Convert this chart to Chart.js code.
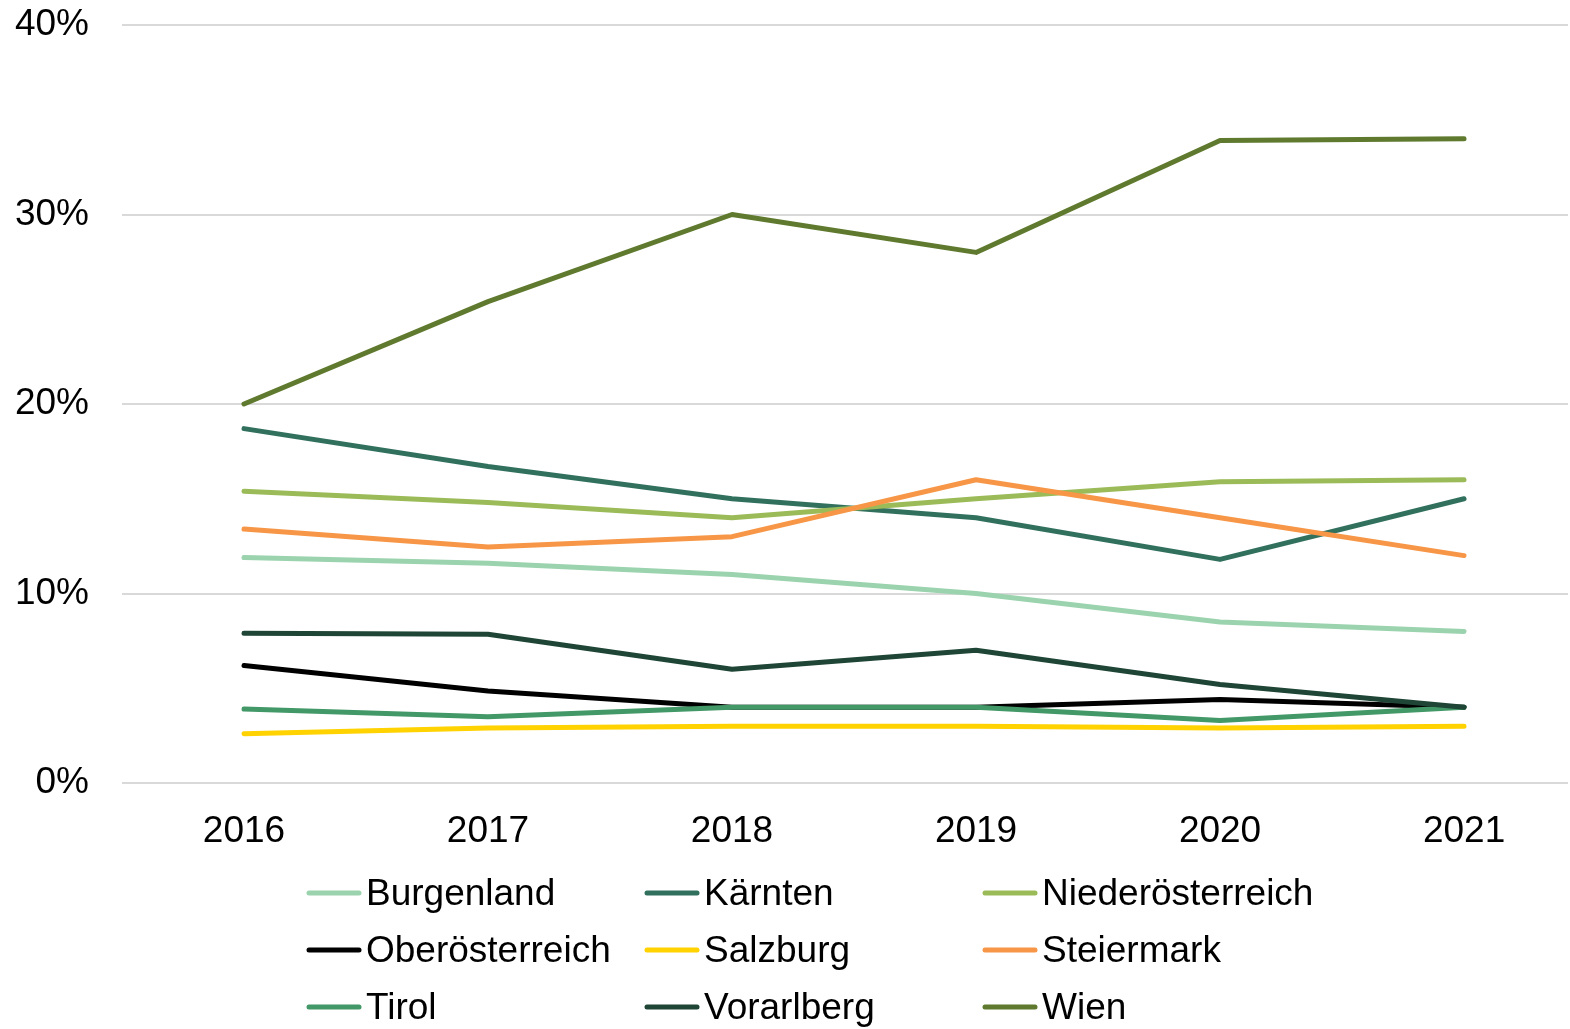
<!DOCTYPE html>
<html>
<head>
<meta charset="utf-8">
<script src="https://cdn.jsdelivr.net/npm/chart.js@4.4.1/dist/chart.umd.min.js"></script>
<style>
  html, body { margin: 0; padding: 0; background: #fff; }
  #wrap { width: 1570px; height: 1029px; position: relative; }
</style>
</head>
<body>
<div id="wrap"><canvas id="chart"></canvas></div>
<script>
const years = [2016, 2017, 2018, 2019, 2020, 2021];

const burgenland      = [11.9, 11.6, 11.0, 10.0, 8.5, 8.0];
const kaernten        = [18.7, 16.7, 15.0, 14.0, 11.8, 15.0];
const niederoesterr   = [15.4, 14.8, 14.0, 15.0, 15.9, 16.0];
const oberoesterr     = [6.2, 4.85, 4.0, 4.0, 4.4, 4.0];
const salzburg        = [2.6, 2.9, 3.0, 3.0, 2.9, 3.0];
const steiermark      = [13.4, 12.45, 13.0, 16.0, 14.0, 12.0];
const tirol           = [3.9, 3.5, 4.0, 4.0, 3.3, 4.0];
const vorarlberg      = [7.9, 7.85, 6.0, 7.0, 5.2, 4.0];
const wien            = [20.0, 25.4, 30.0, 28.0, 33.9, 34.0];

const yTicks = [0, 10, 20, 30, 40];

const series = [
  { name: 'Burgenland', values: burgenland, color: '#9bd3ae' },
  { name: 'Kärnten', values: kaernten, color: '#32705e' },
  { name: 'Niederösterreich', values: niederoesterr, color: '#9bbb59' },
  { name: 'Oberösterreich', values: oberoesterr, color: '#000000' },
  { name: 'Salzburg', values: salzburg, color: '#ffd200' },
  { name: 'Steiermark', values: steiermark, color: '#f79646' },
  { name: 'Tirol', values: tirol, color: '#429867' },
  { name: 'Vorarlberg', values: vorarlberg, color: '#1e4535' },
  { name: 'Wien', values: wien, color: '#5f7a2e' },
];

const FONT = '"Liberation Sans", Arial, sans-serif';

// legend in a fixed 3-column grid, like the original
const gridLegend = {
  id: 'gridLegend',
  afterDraw(chart) {
    const ctx = chart.ctx;
    ctx.save();
    ctx.font = '37px ' + FONT;
    ctx.textBaseline = 'middle';
    ctx.fillStyle = '#000';
    chart.data.datasets.forEach((ds, i) => {
      const col = i % 3, row = Math.floor(i / 3);
      const x = 309 + col * 338;
      const y = 893 + row * 57;
      ctx.strokeStyle = ds.borderColor;
      ctx.lineWidth = 5;
      ctx.lineCap = 'round';
      ctx.beginPath();
      ctx.moveTo(x, y);
      ctx.lineTo(x + 50, y);
      ctx.stroke();
      ctx.fillText(ds.label, x + 57, y + 2);
    });
    ctx.restore();
  }
};

new Chart(document.getElementById('chart'), {
  type: 'line',
  data: {
    datasets: series.map((s, i) => ({
      label: s.name,
      data: years.map((yr, k) => ({ x: yr, y: s.values[k] })),
      borderColor: s.color,
      backgroundColor: s.color,
      borderWidth: 5,
      pointRadius: 0,
      tension: 0,
      borderCapStyle: 'round',
      borderJoinStyle: 'round',
      order: series.length - i,
    }))
  },
  options: {
    responsive: true,
    maintainAspectRatio: false,
    animation: false,
    layout: { padding: { top: 0, right: 2, left: 0, bottom: 0 } },
    plugins: {
      legend: { display: false },
      tooltip: { enabled: false },
    },
    scales: {
      x: {
        type: 'linear',
        min: 2015.5,
        max: 2021.426,
        afterBuildTicks: (scale) => { scale.ticks = years.map(v => ({ value: v })); },
        afterFit: (scale) => { scale.height = 246; },
        grid: { display: false, drawTicks: false },
        border: { display: false },
        ticks: {
          color: '#000',
          font: { family: FONT, size: 37 },
          padding: 27,
          maxRotation: 0,
          callback: (v) => String(v),
        },
      },
      y: {
        min: 0,
        max: 40,
        afterBuildTicks: (scale) => { scale.ticks = yTicks.map(v => ({ value: v })); },
        afterFit: (scale) => {
          scale.width = 122;
          scale.paddingTop = 25;
          scale.paddingBottom = 0;
        },
        grid: { color: '#d9d9d9', lineWidth: 2, drawTicks: false },
        border: { display: false },
        ticks: {
          color: '#000',
          font: { family: FONT, size: 37 },
          padding: 33,
          callback: (v) => v + '%',
        },
      },
    },
  },
  plugins: [gridLegend],
});
</script>
</body>
</html>
